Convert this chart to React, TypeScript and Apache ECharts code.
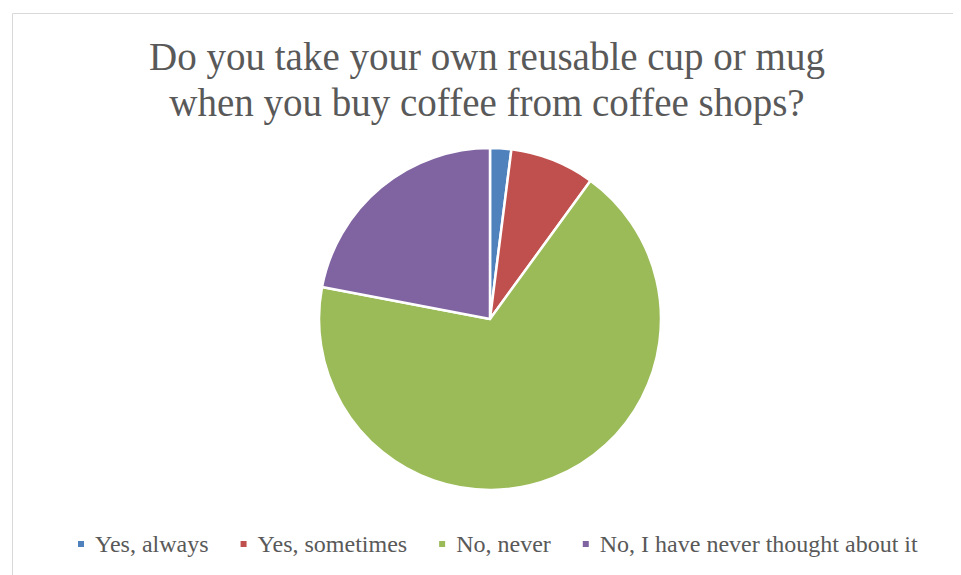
import React, { useEffect, useRef } from "react";
import * as echarts from "echarts";

const categories = ["Yes, always", "Yes, sometimes", "No, never", "No, I have never thought about it"];
const values = [2, 8, 68, 22];
const colors = ["#4F81BD", "#C0504D", "#9BBB59", "#8064A2"];
const titleLines = ["Do you take your own reusable cup or mug", "when you buy coffee from coffee shops?"];

export default function App() {
  const ref = useRef<HTMLDivElement>(null);
  useEffect(() => {
    const chart = echarts.init(ref.current!, undefined, { renderer: "svg" });
    chart.setOption({
      animation: false,
      backgroundColor: "#ffffff",
      color: colors,
      title: {
        text: titleLines.join("\n"),
        left: 474,
        textAlign: "center",
        top: 20,
        textStyle: {
          fontFamily: "Liberation Serif",
          fontSize: 39,
          fontWeight: "normal",
          color: "#595959",
          lineHeight: 46,
        },
      },
      graphic: [
        {
          type: "rect",
          shape: { x: 4.5, y: 5.5, width: 950, height: 566 },
          style: { fill: "none", stroke: "#d9d9d9", lineWidth: 1 },
          silent: true,
        },
      ],
      legend: {
        bottom: 27,
        left: 68,
        padding: 0,
        icon: "rect",
        itemWidth: 8,
        itemHeight: 8,
        itemGap: 30,
        textStyle: { fontFamily: "Liberation Serif", fontSize: 24, color: "#595959", padding: [0, 0, 0, 5] },
        data: categories,
      },
      series: [
        {
          type: "pie",
          center: [482, 311],
          radius: 171,
          startAngle: 90,
          clockwise: true,
          label: { show: false },
          labelLine: { show: false },
          itemStyle: { borderColor: "#ffffff", borderWidth: 2.5 },
          data: categories.map((name, i) => ({ name, value: values[i] })),
        },
      ],
    });
    return () => chart.dispose();
  }, []);
  return <div ref={ref} style={{ width: 945, height: 575 }} />;
}
